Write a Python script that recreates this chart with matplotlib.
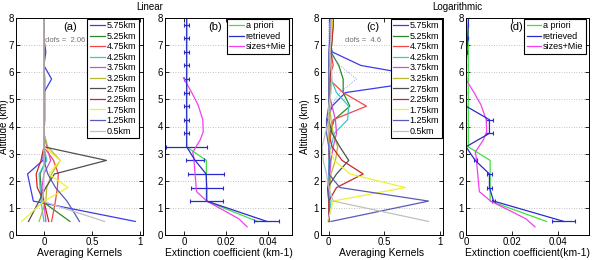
import matplotlib
matplotlib.use("Agg")
import matplotlib.pyplot as plt
import numpy as np

plt.rcParams['font.family'] = ['Liberation Sans', 'DejaVu Sans']

# altitude grid of the kernels / profiles (km)
alt = [0.5, 1.25, 1.75, 2.25, 2.75, 3.25, 3.75, 4.25, 4.75, 5.25, 5.75, 6.25, 6.75, 7.25, 7.75, 8.25]

kernel_labels = ['5.75km', '5.25km', '4.75km', '4.25km', '3.75km', '3.25km',
                 '2.75km', '2.25km', '1.75km', '1.25km', '0.5km']
kernel_colors = ['#3a3af0', '#2a8a2a', '#f04848', '#38c8c8', '#d848d8', '#b8b830',
                 '#505050', '#c82828', '#f0f030', '#5a5ab8', '#c0c0c0']

# (a) linear averaging kernels, one row per kernel, values at `alt`
ak_lin_575 = [0.95, -0.11, -0.14, -0.17, -0.01, 0.00, 0.00, 0.00, 0.005, 0.00, 0.08, 0.00, 0.02, 0.00, 0.00, 0.00]
ak_lin_525 = [0.27, -0.02, -0.03, -0.04, 0.02, 0.00, 0.00, 0.00, 0.00, 0.00, 0.00, 0.00, 0.00, 0.00, 0.00, 0.00]
ak_lin_475 = [0.08, 0.12, 0.14, 0.15, 0.10, 0.00, 0.00, 0.01, 0.01, 0.01, 0.01, 0.00, 0.00, 0.00, 0.00, 0.00]
ak_lin_425 = [0.00, -0.03, -0.04, -0.05, 0.03, 0.00, 0.00, 0.00, 0.00, 0.00, 0.00, 0.00, 0.00, 0.00, 0.00, 0.00]
ak_lin_375 = [0.02, 0.00, -0.02, 0.00, 0.07, 0.03, 0.00, 0.00, 0.00, 0.00, 0.00, 0.00, 0.00, 0.00, 0.00, 0.00]
ak_lin_325 = [-0.05, 0.02, 0.03, 0.08, 0.17, 0.04, 0.00, 0.00, 0.00, 0.00, 0.00, 0.00, 0.00, 0.00, 0.00, 0.00]
ak_lin_275 = [-0.16, -0.05, 0.02, 0.11, 0.65, 0.00, 0.00, 0.00, 0.00, 0.00, 0.00, 0.00, 0.00, 0.00, 0.00, 0.00]
ak_lin_225 = [0.05, 0.00, -0.07, -0.08, -0.03, 0.00, 0.00, 0.00, 0.00, 0.00, 0.00, 0.00, 0.00, 0.00, 0.00, 0.00]
ak_lin_175 = [-0.23, 0.00, 0.25, 0.05, 0.17, 0.00, 0.00, 0.00, 0.00, 0.00, 0.00, 0.00, 0.00, 0.00, 0.00, 0.00]
ak_lin_125 = [0.37, 0.24, 0.12, 0.04, 0.00, 0.00, 0.00, 0.00, 0.00, 0.00, 0.00, 0.00, 0.00, 0.00, 0.00, 0.00]
ak_lin_050 = [0.63, -0.02, 0.00, 0.00, 0.00, 0.00, 0.00, 0.00, 0.00, 0.00, 0.00, 0.00, 0.00, 0.00, 0.00, 0.00]

# (c) logarithmic averaging kernels
ak_log_575 = [0.00, 0.00, 0.00, 0.00, 0.00, 0.00, 0.00, -0.01, 0.03, 0.15, 0.99, 0.29, 0.03, 0.01, 0.02, 0.02]
ak_log_525 = [0.00, 0.00, 0.00, 0.00, 0.01, 0.00, 0.01, 0.05, 0.19, 0.13, 0.13, 0.09, 0.02, 0.02, 0.03, 0.03]
ak_log_475 = [0.00, 0.00, -0.01, 0.00, 0.00, 0.00, 0.02, 0.04, 0.34, 0.13, 0.00, 0.04, 0.02, 0.02, 0.03, 0.03]
ak_log_425 = [0.00, 0.02, 0.00, 0.00, 0.00, 0.02, 0.05, 0.17, 0.18, 0.07, 0.02, 0.00, 0.01, 0.02, 0.02, 0.02]
ak_log_375 = [0.00, 0.00, 0.00, 0.01, 0.02, 0.04, 0.07, 0.06, 0.03, 0.00, 0.01, 0.01, 0.01, 0.02, 0.02, 0.02]
ak_log_325 = [0.00, 0.00, 0.01, 0.02, 0.06, 0.08, 0.04, 0.02, 0.01, 0.01, 0.01, 0.01, 0.02, 0.03, 0.03, 0.03]
ak_log_275 = [0.00, 0.00, -0.01, 0.07, 0.18, 0.10, 0.03, 0.00, 0.00, 0.01, 0.01, 0.02, 0.02, 0.03, 0.04, 0.04]
ak_log_225 = [0.00, 0.00, 0.07, 0.31, 0.12, 0.03, 0.00, 0.00, 0.00, 0.00, 0.01, 0.01, 0.02, 0.03, 0.04, 0.04]
ak_log_175 = [-0.01, 0.04, 0.69, 0.19, 0.05, 0.00, 0.00, 0.00, 0.00, 0.00, 0.00, 0.01, 0.01, 0.02, 0.03, 0.03]
ak_log_125 = [0.02, 0.90, 0.10, 0.00, 0.01, 0.00, -0.02, -0.02, 0.00, 0.00, 0.00, 0.00, 0.00, 0.01, 0.01, 0.01]
ak_log_050 = [0.90, 0.04, 0.00, -0.02, -0.05, -0.06, -0.03, 0.00, 0.00, 0.02, 0.03, 0.02, 0.01, 0.02, 0.02, 0.02]
ak_log_extra = [0.00, 0.00, 0.00, 0.00, 0.00, 0.00, 0.00, 0.00, 0.02, 0.10, 0.25, 0.10, 0.00, 0.00, 0.00, 0.00]

# extinction profiles (km-1)
ext_alt = [0.5, 1.25, 1.75, 2.25, 2.75, 3.25, 3.75, 4.25, 4.75, 5.25, 5.75, 6.25, 6.75, 7.25, 7.75, 8.25]
apriori = [0.035, 0.0105, 0.0105, 0.0105, 0.0105, 0.001, 0.001, 0.001, 0.001, 0.001, 0.001, 0.001, 0.001, 0.001, 0.001, 0.001]
retr_lin = [0.0395, 0.0107, 0.0107, 0.0104, 0.0051, 0.0011, 0.0011, 0.0011, 0.0011, 0.0011, 0.0011, 0.0011, 0.0011, 0.0011, 0.0011, 0.0011]
err_lin = [0.006, 0.008, 0.0077, 0.0085, 0.0044, 0.0098, 0.0012, 0.0012, 0.0012, 0.0012, 0.0012, 0.0012, 0.0012, 0.0012, 0.0012, 0.0012]
retr_log = [0.0426, 0.012, 0.0102, 0.0102, 0.004, 0.0, 0.0102, 0.0102, 0.0, 0.0, 0.0, 0.0, 0.0004, 0.0007, 0.001, 0.0012]
err_log = [0.005, 0.0008, 0.0012, 0.0012, 0.0006, 0.0, 0.0015, 0.0015, 0.0, 0.0, 0.0, 0.0, 0.0, 0.0, 0.0, 0.0]
mie_alt = [0.3, 0.6, 0.9, 1.25, 1.6, 2.9, 3.05, 3.5, 3.8, 4.25, 4.8, 5.25, 5.8]
mie = [0.030, 0.026, 0.019, 0.0107, 0.0058, 0.0044, 0.0040, 0.0075, 0.0090, 0.0088, 0.0065, 0.0035, -0.0005]

ak_lin = [ak_lin_575, ak_lin_525, ak_lin_475, ak_lin_425, ak_lin_375, ak_lin_325,
          ak_lin_275, ak_lin_225, ak_lin_175, ak_lin_125, ak_lin_050]
ak_log = [ak_log_575, ak_log_525, ak_log_475, ak_log_425, ak_log_375, ak_log_325,
          ak_log_275, ak_log_225, ak_log_175, ak_log_125, ak_log_050]

W, H = 594, 260
fig = plt.figure(figsize=(W / 100, H / 100), dpi=100)


def px_axes(l, r, t, b):
    return fig.add_axes([l / W, 1 - b / H, (r - l) / W, (b - t) / H])


axA = px_axes(16, 143, 18, 235)
axB = px_axes(165, 292, 18, 235)
axC = px_axes(321, 443, 18, 235)
axD = px_axes(466, 589, 18, 235)

for ax in (axA, axB, axC, axD):
    ax.set_ylim(0, 8)
    ax.set_yticks(range(0, 9))
    ax.tick_params(direction='in', length=3, width=0.6, top=True, right=True, labelsize=7, pad=1.5)
    ax.yaxis.grid(True, linestyle=(0, (1, 2)), color='#b0b0b0', linewidth=0.6)
    for s in ax.spines.values():
        s.set_linewidth(0.7)

leg_kw = dict(loc='upper right', borderaxespad=0, fontsize=6.5, handlelength=1.6,
              handletextpad=0.2, labelspacing=0.17, borderpad=0.3, fancybox=False,
              framealpha=1, edgecolor='black')

# kernels
for ax, data, xlim, lblx, legx in ((axA, ak_lin, (-0.29, 1.03), 9.0, 0.965),
                                   (axC, ak_log, (-0.07, 1.03), 310.0, 0.99)):
    for lab, col, row in zip(kernel_labels, kernel_colors, data):
        ax.plot(row, alt, color=col, lw=0.9, label=lab)
    ax.set_xlim(*xlim)
    ax.set_xticks([0, 0.5, 1])
    ax.set_xticklabels(['0', '0.5', '1'])
    ax.set_xlabel('Averaging Kernels', fontsize=7.5, labelpad=1)
    ax.set_ylabel('Altitude (km)', fontsize=7)
    l0 = ax.get_position().x0 * W
    wd = ax.get_position().width * W
    ax.yaxis.set_label_coords((lblx - l0) / wd, 0.5)
    lg = ax.legend(bbox_to_anchor=(legx, 0.997), **leg_kw)
    lg.get_frame().set_linewidth(0.8)

axC.plot(ak_log_extra, alt, color='#8080ff', lw=0.6, ls=':')

axA.text(0.27, 7.67, '(a)', fontsize=8, ha='center', va='center')
axA.text(0.01, 7.18, 'dofs =  2.06', fontsize=5.5, color='#707070', ha='left', va='center')
axC.text(0.40, 7.67, '(c)', fontsize=8, ha='center', va='center')
axC.text(0.15, 7.18, 'dofs =  4.6', fontsize=5.5, color='#707070', ha='left', va='center')

# extinction
for ax, retr, err, xlim, xl, letter, lx in (
        (axB, retr_lin, err_lin, (-0.0093, 0.0515), 'Extinction coefficient (km-1)', '(b)', 0.0147),
        (axD, retr_log, err_log, (0.0, 0.0535), 'Extinction coefficient(km-1)', '(d)', 0.022)):
    h1, = ax.plot(apriori, ext_alt, color='#40e040', lw=0.9, label='a priori')
    h2 = ax.errorbar(retr, ext_alt, xerr=err, color='#2a2ad0', lw=0.9, elinewidth=0.9,
                     capsize=1.5, capthick=0.8, label='retrieved')
    h3, = ax.plot(mie, mie_alt, color='#f040f0', lw=0.9, label='sizes+Mie')
    ax.set_xlim(*xlim)
    ax.set_xticks([0, 0.02, 0.04])
    ax.set_xticklabels(['0', '0.02', '0.04'])
    ax.set_xlabel(xl, fontsize=7.5, labelpad=1)
    ax.text(lx, 7.67, letter, fontsize=8, ha='center', va='center')
    lg = ax.legend([h1, h2[0], h3], ['a priori', 'retrieved', 'sizes+Mie'],
                   bbox_to_anchor=(0.975, 0.997), **leg_kw)
    lg.get_frame().set_linewidth(0.8)

fig.text(150 / W, 1 - 7 / H, 'Linear', fontsize=7, ha='center', va='center')
fig.text(457 / W, 1 - 7 / H, 'Logarithmic', fontsize=7, ha='center', va='center')

fig.savefig('out.png', dpi=100)
